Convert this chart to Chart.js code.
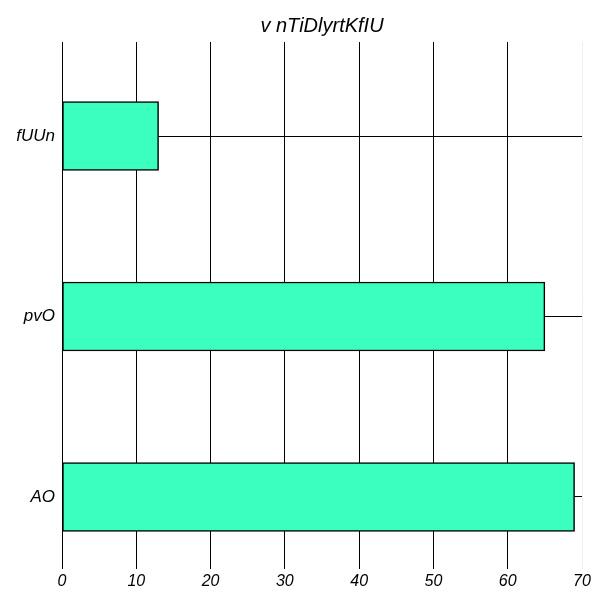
<!DOCTYPE html>
<html><head><meta charset="utf-8">
<script src="https://cdn.jsdelivr.net/npm/chart.js@4/dist/chart.umd.min.js"></script>
<style>html,body{margin:0;padding:0;background:#fff}#wrap{width:608px;height:608px}</style>
</head><body><div id="wrap"><canvas id="c" width="608" height="608"></canvas></div>
<script>
const titleText = "v nTiDlyrtKfIU";
const categories = ["fUUn", "pvO", "AO"];
const values = [13, 65, 69];
const xTicks = [0, 10, 20, 30, 40, 50, 60, 70];

const FONT = "'Liberation Sans', Arial, sans-serif";
new Chart(document.getElementById('c'), {
  type: 'bar',
  data: {
    datasets: [{
      data: categories.map((c, i) => ({ x: values[i], y: i })),
      backgroundColor: '#3affbf',
      borderColor: '#000',
      borderWidth: 1.5,
      borderSkipped: false,
      barThickness: 69
    }]
  },
  options: {
    indexAxis: 'y',
    responsive: false,
    animation: false,
    layout: { padding: { left: 0, right: 26, top: 0, bottom: 0 } },
    plugins: {
      legend: { display: false },
      tooltip: { enabled: false },
      title: {
        display: true, text: titleText, fullSize: false,
        color: '#000',
        font: { family: FONT, size: 20, style: 'italic', weight: 'normal', lineHeight: 1.2 },
        padding: { top: 14, bottom: 4 }
      }
    },
    scales: {
      x: {
        type: 'linear', min: 0, max: 70,
        afterBuildTicks: s => { s.ticks = xTicks.map(v => ({ value: v })); },
        afterFit: s => { s.height = 47; },
        border: { display: false },
        grid: {
          color: c => (c.tick && c.tick.value === 70) ? '#f0f0f0' : '#000',
          lineWidth: 1, drawTicks: true, tickLength: 8
        },
        ticks: { color: '#000', padding: 3, maxRotation: 0,
          font: { family: FONT, size: 16, style: 'italic' } }
      },
      y: {
        type: 'linear', reverse: true, min: -0.5208, max: 2.3546,
        offset: false,
        afterBuildTicks: s => { s.ticks = categories.map((c, i) => ({ value: i })); },
        afterFit: s => { s.width = 62; },
        border: { display: false },
        grid: { color: '#000', lineWidth: 1, drawTicks: false, offset: false },
        ticks: { color: '#000', padding: 7,
          callback: v => categories[v],
          font: { family: FONT, size: 17, style: 'italic' } }
      }
    }
  }
});
</script>
</body></html>
